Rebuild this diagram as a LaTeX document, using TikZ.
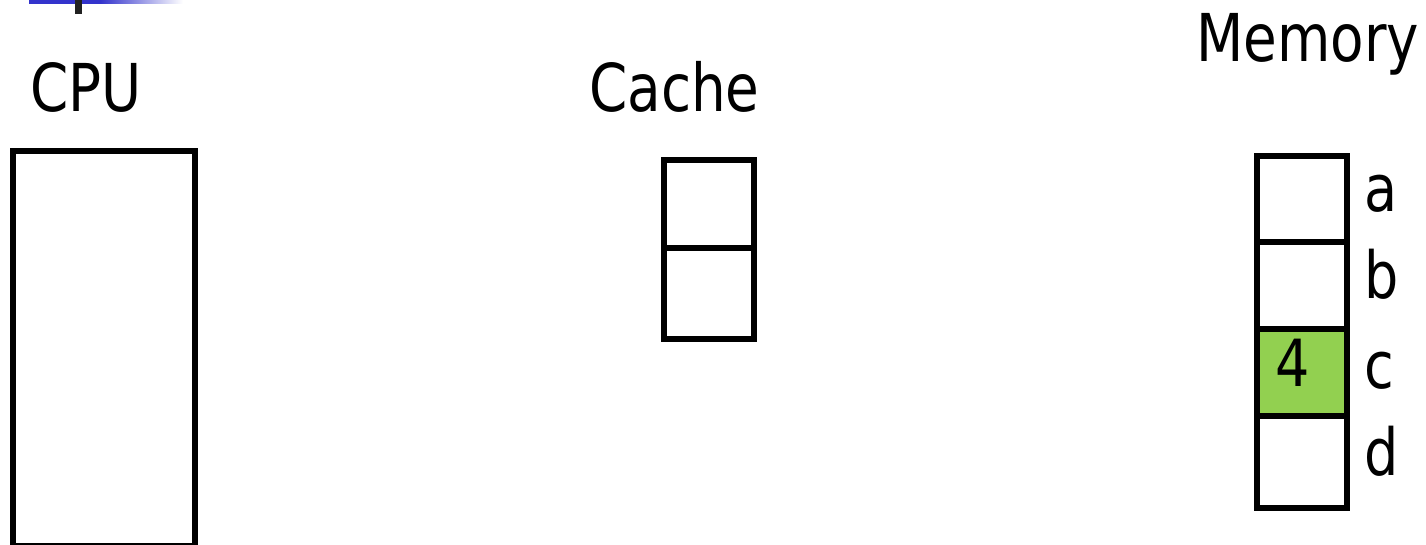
\documentclass[tikz,border=0pt]{standalone}
\usepackage{fontspec}
\setmainfont{DejaVu Sans}[FakeStretch=0.83]
\definecolor{cellgreen}{HTML}{92D050}
\definecolor{barblue}{HTML}{3333CC}
\begin{document}
\begin{tikzpicture}[x=1pt,y=-1pt,
  box/.style={draw=black,line width=6pt,inner sep=0pt,outer sep=0pt},
  lbl/.style={font=\fontsize{66}{70}\selectfont,inner sep=0pt,anchor=base west},
  small/.style={font=\fontsize{65}{68}\selectfont,inner sep=0pt,anchor=base west}]
\useasboundingbox (0,0) rectangle (1426,545);
\clip (0,0) rectangle (1426,545);
% slide decoration
\fill[barblue] (29,0) rectangle (100,4);
\shade[left color=barblue,right color=white] (100,0) rectangle (183,4);
\fill[black!87] (75,0) rectangle (81.7,14);
% titles
\node[lbl] (tcpu) at (30,111.7) {CPU};
\node[lbl] (tcache) at (589,111.7) {Cache};
\node[lbl] (tmem) at (1196,61.7) {Memory};
% CPU
\node[box,minimum width=181.5pt,minimum height=395pt] (cpu) at (103.75,348.5) {};
% Cache
\node[box,minimum width=90.5pt,minimum height=88.3pt] (c1) at (708.75,203.85) {};
\node[box,minimum width=90.5pt,minimum height=91pt] (c2) at (708.75,293.5) {};
% Memory
\node[box,minimum width=89.8pt,minimum height=86pt] (ma) at (1301.6,198.8) {};
\node[box,minimum width=89.8pt,minimum height=87.2pt] (mb) at (1301.6,285.4) {};
\node[box,fill=cellgreen,minimum width=89.8pt,minimum height=86.7pt] (mc) at (1301.6,372.35) {};
\node[box,minimum width=89.8pt,minimum height=91.8pt] (md) at (1301.6,461.6) {};
\node[small,anchor=base] (v4) at (1293,386.7) {4};
% labels
\node[small] (la) at (1364,211.7) {a};
\node[small] (lb) at (1364,298.3) {b};
\node[small] (lc) at (1364,388.3) {c};
\node[small] (ld) at (1364,475) {d};
\end{tikzpicture}
\end{document}
